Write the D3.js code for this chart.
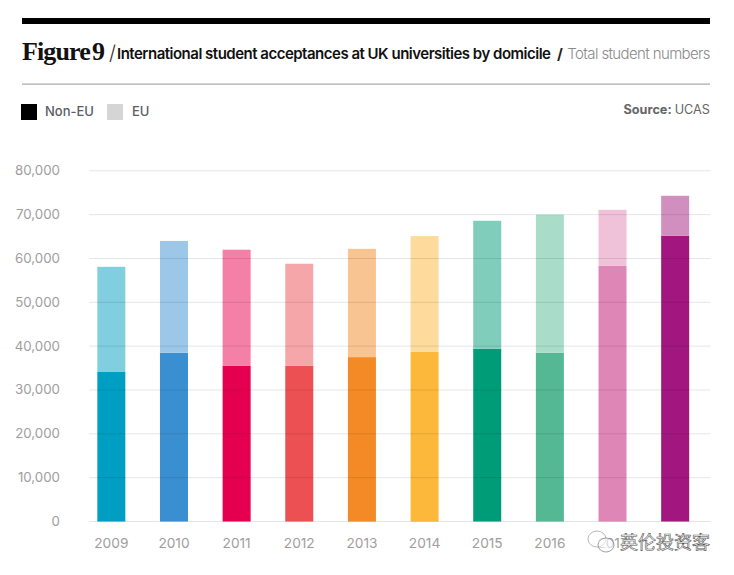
<!DOCTYPE html>
<html><head><meta charset="utf-8">
<script src="https://cdnjs.cloudflare.com/ajax/libs/d3/7.8.5/d3.min.js"></script>
<style>html,body{margin:0;padding:0;background:#fff}svg{display:block}text{font-family:Inter,sans-serif}</style>
</head><body><svg id="c" width="734" height="575"></svg>
<script>
const years=["2009","2010","2011","2012","2013","2014","2015","2016","2017","2018"];
const nonEU=[34100,38500,35500,35500,37500,38700,39400,38500,58300,65200];
const total=[58100,64000,62000,58800,62200,65100,68600,70000,71100,74300];
const yTicks=[0,10000,20000,30000,40000,50000,60000,70000,80000];
const darkColours=["#009ec2","#3a8fd0","#e5004f","#ec5053","#f38a25","#fcb83a","#009b77","#54b894","#de86b6","#a2167f"];
const lightColours=["#80cee0","#9cc7e8","#f47fa7","#f5a6a9","#f8c492","#fcdb9c","#80cdbb","#a9dcc9","#efc2da","#d08fbf"];
const svg=d3.select("#c");
const x=d3.scaleBand().domain(years).range([80,706.5]).paddingInner(0.553).paddingOuter(0.553/2);
const y=d3.scaleLinear().domain([0,80000]).range([521.5,170.8]);
const row=years.map((yr,i)=>({yr,non:nonEU[i],tot:total[i],dark:darkColours[i],light:lightColours[i]}));
// header
svg.append("rect").attr("x",22).attr("y",18).attr("width",688).attr("height",6).attr("fill","#000");
svg.append("rect").attr("x",22).attr("y",83.5).attr("width",688).attr("height",1.2).attr("fill","#a8a8a8");
const fig=svg.append("text").attr("x",22).attr("y",60).style("font-family","'Liberation Serif',serif").style("font-weight",700).style("font-size","26px").style("letter-spacing","-0.9px").attr("fill","#111");
fig.append("tspan").text("Figure");
fig.append("tspan").attr("x",92).text("9");
svg.append("text").attr("x",109).attr("y",60).style("font-size","20px").style("font-weight",300).attr("fill","#333").text("/");
svg.append("text").attr("x",117).attr("y",59).style("font-size","15px").style("font-weight",600).style("letter-spacing","-0.5px").attr("fill","#111").text("International student acceptances at UK universities by domicile");
svg.append("text").attr("x",557).attr("y",59).style("font-size","15px").style("font-weight",700).attr("fill","#222").text("/");
svg.append("text").attr("x",710).attr("y",59).attr("text-anchor","end").style("font-size","15px").style("font-weight",300).style("letter-spacing","-0.62px").attr("fill","#8a8a8a").text("Total student numbers");
// legend
svg.append("rect").attr("x",21).attr("y",104).attr("width",16).attr("height",16).attr("fill","#000");
svg.append("text").attr("x",45).attr("y",116).style("font-size","13px").style("font-weight",500).attr("fill","#5a5d66").text("Non-EU");
svg.append("rect").attr("x",107).attr("y",104).attr("width",16).attr("height",16).attr("fill","#d5d5d5");
svg.append("text").attr("x",132).attr("y",116).style("font-size","13px").style("font-weight",500).attr("fill","#5a5d66").text("EU");
const src=svg.append("text").attr("x",710).attr("y",114).attr("text-anchor","end").style("font-size","12.7px").attr("fill","#666");
src.append("tspan").style("font-weight",700).text("Source: ");
src.append("tspan").style("font-weight",400).text("UCAS");
// bars
const g=svg.append("g");
g.selectAll(".n").data(row).join("rect").attr("x",d=>x(d.yr)).attr("width",x.bandwidth()).attr("y",d=>y(d.non)).attr("height",d=>y(0)-y(d.non)).attr("fill",d=>d.dark);
g.selectAll(".e").data(row).join("rect").attr("x",d=>x(d.yr)).attr("width",x.bandwidth()).attr("y",d=>y(d.tot)).attr("height",d=>y(d.non)-y(d.tot)).attr("fill",d=>d.light);
// grid
const gr=svg.append("g");
gr.selectAll("line").data(yTicks).join("line").attr("x1",89).attr("x2",710.5).attr("y1",d=>y(d)).attr("y2",d=>y(d)).attr("stroke","#000").attr("stroke-opacity",0.1).attr("stroke-width",1);
// axis labels
svg.append("g").selectAll("text").data(yTicks).join("text").attr("x",60).attr("y",d=>y(d)+4.5).attr("text-anchor","end").style("font-size","13.3px").attr("fill","#a19d9d").text(d3.format(","));
svg.append("g").selectAll("text").data(years).join("text").attr("x",d=>x(d)+x.bandwidth()/2).attr("y",548).attr("text-anchor","middle").style("font-size","13.7px").attr("fill","#a19d9d").text(d=>d);
// watermark
const wm=svg.append("g");
wm.append("rect").attr("x",628).attr("y",530).attr("width",84).attr("height",26).attr("fill","#fff");
wm.append("text").attr("x",620).attr("y",549).style("font-family","'Noto Sans CJK SC'").style("font-size","18px").attr("fill","#fff").attr("stroke","#555").attr("stroke-width",0.6).text("英伦投资客");
wm.append("ellipse").attr("cx",597).attr("cy",539).attr("rx",9).attr("ry",8).attr("fill","#fff").attr("fill-opacity",0.8).attr("stroke","#999").attr("stroke-width",0.7);
wm.append("ellipse").attr("cx",606).attr("cy",545).attr("rx",8).attr("ry",7).attr("fill","#fff").attr("fill-opacity",0.6).attr("stroke","#777").attr("stroke-width",0.7);
</script></body></html>
